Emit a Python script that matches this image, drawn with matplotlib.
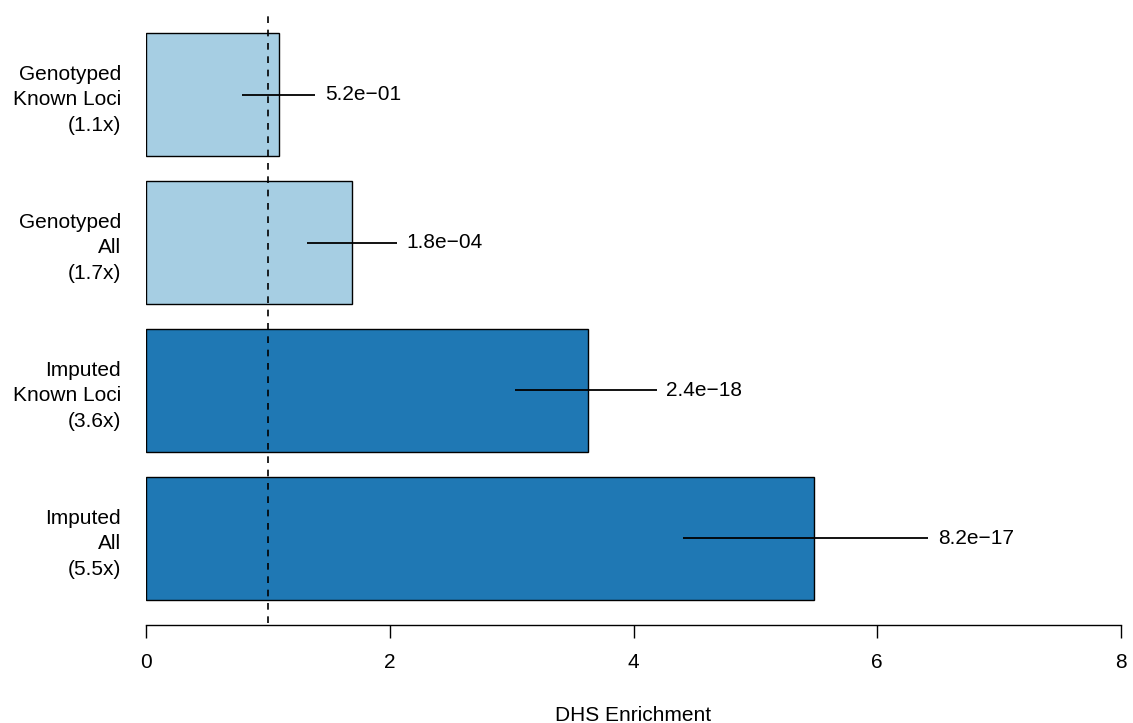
import matplotlib
matplotlib.use("Agg")
import matplotlib.pyplot as plt

# data, top to bottom as in the figure
labels = ["Genotyped\nKnown Loci\n(1.1x)", "Genotyped\nAll\n(1.7x)",
          "Imputed\nKnown Loci\n(3.6x)", "Imputed\nAll\n(5.5x)"]
enrichment = [1.09, 1.69, 3.63, 5.48]
ci_low = [0.79, 1.32, 3.03, 4.41]
ci_high = [1.39, 2.06, 4.19, 6.42]
pvals = ["5.2e\u221201", "1.8e\u221204", "2.4e\u221218", "8.2e\u221217"]
colors = ["#A6CEE3", "#A6CEE3", "#1F78B4", "#1F78B4"]

plt.rcParams['font.family'] = ['Liberation Sans', 'DejaVu Sans']
FS = 15

W, H = 1133, 723
fig = plt.figure(figsize=(W / 100, H / 100), dpi=100)
ax = fig.add_axes([146 / W, 1 - 622.7 / H, 975 / W, (622.7 - 10.3) / H])

n = len(enrichment)
# R barplot layout: width 1, space 0.2, first bar at the bottom
ypos = [0.7 + 1.2 * (n - 1 - i) for i in range(n)]

ax.barh(ypos, enrichment, height=1.0, color=colors, edgecolor="black",
        linewidth=1.0, zorder=2)
ax.hlines(ypos, ci_low, ci_high, color="black", linewidth=1.3, zorder=3)
for y, hi, p in zip(ypos, ci_high, pvals):
    ax.annotate(p, xy=(hi, y), xytext=(7, 0), textcoords="offset points",
                ha="left", va="center", fontsize=FS)

ax.axvline(1, color="black", linestyle=(0, (4, 4)), linewidth=1.2, zorder=4)

ax.set_xlim(0, 8)
ax.set_ylim(0.016, 4.984)

ax.set_yticks(ypos)
ax.set_yticklabels(labels, fontsize=FS, linespacing=1.43)
ax.tick_params(axis="y", length=0, pad=18)

ax.set_xticks([0, 2, 4, 6, 8])
ax.tick_params(axis="x", direction="out", length=9, width=1.0, pad=11,
               labelsize=FS)
ax.set_xlabel("DHS Enrichment", fontsize=FS, labelpad=24)

for side in ["top", "right", "left"]:
    ax.spines[side].set_visible(False)
ax.spines["bottom"].set_bounds(0, 8)
ax.spines["bottom"].set_position(("outward", 2))
ax.spines["bottom"].set_linewidth(1.0)

fig.savefig("out.png", dpi=100)
